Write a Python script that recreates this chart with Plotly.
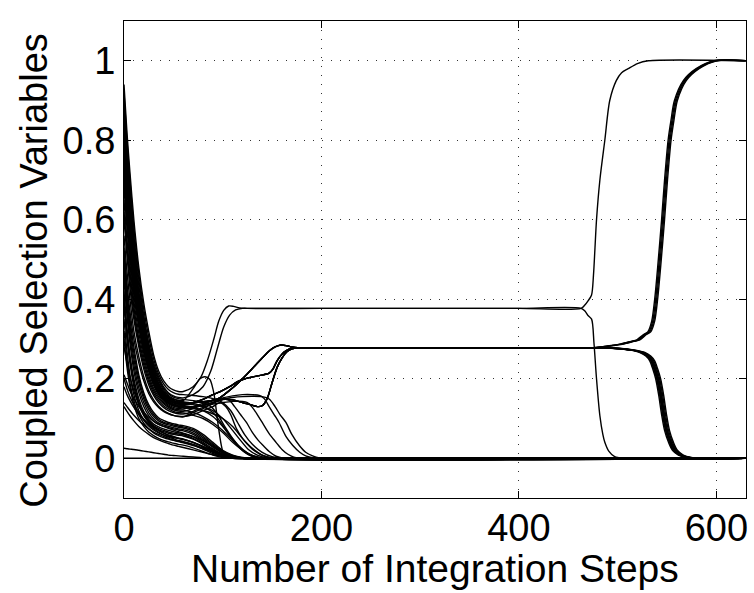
import plotly.graph_objects as go

# ---------------- data ----------------
x_ticks = [0, 200, 400, 600]
y_ticks = [0, 0.2, 0.4, 0.6, 0.8, 1.0]
y_tick_text = ["0", "0.2", "0.4", "0.6", "0.8", "1"]

early_x = [0, 3, 6, 10, 15, 20, 25, 30, 35, 40, 45, 50, 55, 60]

# upper bundle (slow decay to ~0.1-0.17)
u1 = [0.94, 0.82, 0.72, 0.60, 0.48, 0.39, 0.32, 0.26, 0.22, 0.195, 0.18, 0.172, 0.168, 0.168]
u2 = [0.90, 0.78, 0.68, 0.56, 0.45, 0.36, 0.29, 0.24, 0.205, 0.18, 0.165, 0.157, 0.153, 0.152]
u3 = [0.86, 0.74, 0.64, 0.53, 0.42, 0.34, 0.275, 0.228, 0.195, 0.172, 0.158, 0.15, 0.146, 0.145]
u4 = [0.82, 0.70, 0.60, 0.50, 0.40, 0.32, 0.26, 0.215, 0.185, 0.165, 0.152, 0.145, 0.141, 0.14]
u5 = [0.78, 0.66, 0.57, 0.47, 0.37, 0.30, 0.245, 0.205, 0.175, 0.157, 0.146, 0.14, 0.137, 0.136]
u6 = [0.74, 0.63, 0.54, 0.44, 0.35, 0.28, 0.23, 0.193, 0.167, 0.15, 0.14, 0.134, 0.131, 0.13]
u7 = [0.70, 0.60, 0.51, 0.41, 0.33, 0.265, 0.218, 0.183, 0.16, 0.144, 0.134, 0.128, 0.125, 0.124]
u8 = [0.65, 0.55, 0.47, 0.38, 0.30, 0.245, 0.20, 0.17, 0.15, 0.137, 0.128, 0.122, 0.119, 0.118]
u9 = [0.60, 0.51, 0.43, 0.35, 0.28, 0.225, 0.185, 0.158, 0.14, 0.128, 0.12, 0.115, 0.112, 0.111]
u10 = [0.56, 0.47, 0.40, 0.32, 0.255, 0.205, 0.17, 0.147, 0.131, 0.12, 0.113, 0.108, 0.105, 0.104]
u11 = [0.53, 0.44, 0.37, 0.30, 0.24, 0.195, 0.163, 0.142, 0.128, 0.118, 0.112, 0.108, 0.106, 0.105]
u12 = [0.92, 0.80, 0.70, 0.58, 0.465, 0.375, 0.305, 0.25, 0.212, 0.188, 0.173, 0.165, 0.161, 0.16]
u13 = [0.88, 0.76, 0.66, 0.545, 0.435, 0.35, 0.283, 0.234, 0.20, 0.176, 0.162, 0.154, 0.15, 0.148]
u14 = [0.84, 0.72, 0.62, 0.515, 0.41, 0.33, 0.268, 0.222, 0.19, 0.168, 0.155, 0.148, 0.144, 0.142]
u15 = [0.80, 0.68, 0.585, 0.485, 0.385, 0.31, 0.253, 0.21, 0.18, 0.161, 0.149, 0.142, 0.138, 0.137]
u16 = [0.76, 0.645, 0.555, 0.455, 0.36, 0.29, 0.238, 0.199, 0.171, 0.153, 0.143, 0.137, 0.134, 0.133]
u17 = [0.72, 0.615, 0.525, 0.425, 0.34, 0.272, 0.224, 0.188, 0.163, 0.147, 0.137, 0.131, 0.128, 0.127]
u18 = [0.68, 0.58, 0.49, 0.395, 0.315, 0.255, 0.209, 0.176, 0.155, 0.14, 0.131, 0.125, 0.122, 0.121]
u19 = [0.62, 0.53, 0.45, 0.365, 0.29, 0.235, 0.193, 0.164, 0.145, 0.132, 0.124, 0.118, 0.115, 0.114]

# lower bundle (fast decay towards 0)
l1 = [0.52, 0.42, 0.35, 0.28, 0.21, 0.165, 0.135, 0.115, 0.102, 0.095, 0.09, 0.087, 0.084, 0.082]
l2 = [0.48, 0.39, 0.32, 0.25, 0.19, 0.15, 0.123, 0.105, 0.094, 0.088, 0.084, 0.081, 0.078, 0.076]
l3 = [0.45, 0.36, 0.29, 0.22, 0.165, 0.13, 0.107, 0.093, 0.085, 0.08, 0.077, 0.074, 0.071, 0.069]
l4 = [0.42, 0.33, 0.26, 0.20, 0.15, 0.118, 0.098, 0.086, 0.079, 0.074, 0.07, 0.067, 0.064, 0.062]
l5 = [0.38, 0.30, 0.24, 0.18, 0.135, 0.107, 0.09, 0.079, 0.072, 0.067, 0.063, 0.06, 0.058, 0.056]
l6 = [0.35, 0.27, 0.21, 0.16, 0.12, 0.096, 0.081, 0.071, 0.064, 0.059, 0.055, 0.052, 0.05, 0.048]
l7 = [0.32, 0.25, 0.19, 0.145, 0.11, 0.088, 0.074, 0.064, 0.057, 0.052, 0.048, 0.045, 0.043, 0.041]
l8 = [0.30, 0.23, 0.18, 0.135, 0.10, 0.08, 0.066, 0.057, 0.05, 0.045, 0.041, 0.038, 0.035, 0.033]
l9 = [0.21, 0.19, 0.17, 0.15, 0.13, 0.115, 0.103, 0.093, 0.086, 0.08, 0.075, 0.071, 0.067, 0.063]
l10 = [0.18, 0.16, 0.145, 0.128, 0.11, 0.097, 0.086, 0.077, 0.07, 0.064, 0.059, 0.055, 0.051, 0.048]
l11 = [0.14, 0.13, 0.12, 0.108, 0.095, 0.084, 0.074, 0.066, 0.06, 0.055, 0.05, 0.046, 0.042, 0.039]
l12 = [0.025, 0.024, 0.023, 0.022, 0.02, 0.018, 0.016, 0.014, 0.012, 0.01, 0.008, 0.007, 0.006, 0.005]
l13 = [0, 0, 0, 0, 0, 0, 0, 0, 0, 0, 0, 0, 0, 0]
l14 = [0.50, 0.405, 0.335, 0.265, 0.20, 0.157, 0.129, 0.11, 0.098, 0.091, 0.087, 0.084, 0.081, 0.079]
l15 = [0.46, 0.375, 0.305, 0.235, 0.177, 0.14, 0.115, 0.099, 0.089, 0.084, 0.08, 0.077, 0.074, 0.072]
l16 = [0.40, 0.315, 0.25, 0.19, 0.142, 0.112, 0.094, 0.082, 0.075, 0.07, 0.066, 0.063, 0.061, 0.059]
l17 = [0.28, 0.24, 0.205, 0.17, 0.135, 0.11, 0.093, 0.08, 0.07, 0.063, 0.057, 0.053, 0.05, 0.047]
l18 = [0.20, 0.175, 0.155, 0.135, 0.115, 0.098, 0.085, 0.074, 0.066, 0.059, 0.053, 0.049, 0.045, 0.042]
l19 = [0.13, 0.118, 0.107, 0.094, 0.08, 0.069, 0.06, 0.052, 0.046, 0.041, 0.037, 0.033, 0.03, 0.027]

# continuations after step 60 (x, y)
u1_tail_x = [70, 78, 85, 91, 96, 101, 106, 111, 117, 125, 200, 300, 400, 463]
u1_tail_y = [0.18, 0.205, 0.25, 0.30, 0.345, 0.372, 0.383, 0.382, 0.378, 0.377, 0.377, 0.377, 0.377, 0.377]
u2_tail_x = [70, 80, 88, 95, 101, 107, 113, 120, 128, 200, 300, 400, 463]
u2_tail_y = [0.16, 0.18, 0.22, 0.28, 0.33, 0.36, 0.373, 0.377, 0.377, 0.377, 0.377, 0.377, 0.377]
u3_tail_x = [70, 77, 82, 87, 90, 92, 95, 98.6, 101, 104, 110, 630]
u3_tail_y = [0.175, 0.2, 0.205, 0.198, 0.175, 0.149, 0.09, 0.032, 0.01, 0.002, 0, 0]
u4_tail_x = [70, 80, 90, 97, 105, 113.7, 122, 130, 140, 147, 153, 159, 165, 170, 176, 185, 280, 380, 476]
u4_tail_y = [0.14, 0.142, 0.146, 0.152, 0.167, 0.185, 0.205, 0.226, 0.252, 0.27, 0.28, 0.285, 0.283, 0.28, 0.278, 0.278, 0.278, 0.278, 0.278]
u5_tail_x = [70, 80, 90, 97, 107, 117, 127, 137, 147, 151, 155, 160, 164, 169, 175, 185, 280, 380, 476]
u5_tail_y = [0.14, 0.148, 0.16, 0.167, 0.18, 0.195, 0.203, 0.208, 0.214, 0.225, 0.245, 0.262, 0.27, 0.276, 0.278, 0.278, 0.278, 0.278, 0.278]
u6_tail_x = [70, 80, 90, 100, 110, 120, 128, 135, 140, 145, 150, 155, 160, 165, 170, 176, 185, 280, 380, 476]
u6_tail_y = [0.13, 0.133, 0.14, 0.148, 0.147, 0.14, 0.135, 0.13, 0.132, 0.15, 0.19, 0.228, 0.252, 0.268, 0.275, 0.278, 0.278, 0.278, 0.278, 0.278]
u7_tail_x = [70, 80, 90, 100, 110, 120, 130, 140, 147, 153, 158, 164, 170, 177.6, 184, 191, 198, 205, 630]
u7_tail_y = [0.13, 0.138, 0.145, 0.15, 0.153, 0.155, 0.156, 0.155, 0.149, 0.13, 0.11, 0.09, 0.06, 0.032, 0.015, 0.006, 0.001, 0, 0]
u8_tail_x = [70, 80, 90, 100, 110, 120, 130, 137, 142, 147, 152, 157, 164, 171, 178, 184, 192, 200, 630]
u8_tail_y = [0.125, 0.135, 0.145, 0.152, 0.157, 0.16, 0.16, 0.158, 0.15, 0.13, 0.11, 0.09, 0.055, 0.032, 0.015, 0.006, 0.001, 0, 0]
u9_tail_x = [70, 80, 90, 100, 110, 120, 125, 130, 135, 140, 147, 154, 160, 166, 172, 180, 630]
u9_tail_y = [0.118, 0.128, 0.136, 0.14, 0.143, 0.143, 0.14, 0.128, 0.11, 0.09, 0.062, 0.04, 0.022, 0.01, 0.003, 0, 0]
u10_tail_x = [70, 80, 90, 97, 103, 107, 112, 118, 124, 130, 136, 141, 148, 154, 160, 166, 630]
u10_tail_y = [0.115, 0.125, 0.138, 0.145, 0.148, 0.145, 0.13, 0.11, 0.09, 0.065, 0.045, 0.032, 0.015, 0.005, 0.001, 0, 0]
u11_tail_x = [70, 80, 90, 97, 103, 108, 114, 120, 125, 130, 138, 147, 155, 630]
u11_tail_y = [0.11, 0.12, 0.13, 0.14, 0.13, 0.11, 0.074, 0.05, 0.035, 0.023, 0.01, 0.002, 0, 0]
u12_tail_x = [70, 80, 90, 100, 108, 115, 122, 130, 140, 150, 160, 630]
u12_tail_y = [0.158, 0.155, 0.15, 0.14, 0.12, 0.09, 0.06, 0.035, 0.015, 0.004, 0, 0]
u13_tail_x = [70, 80, 88, 95, 102, 110, 118, 126, 135, 145, 630]
u13_tail_y = [0.145, 0.14, 0.13, 0.11, 0.08, 0.05, 0.025, 0.01, 0.002, 0, 0]
u14_tail_x = [70, 80, 90, 98, 106, 114, 122, 130, 140, 630]
u14_tail_y = [0.138, 0.13, 0.115, 0.09, 0.06, 0.035, 0.015, 0.004, 0, 0]
u15_tail_x = [70, 80, 90, 100, 110, 118, 126, 135, 145, 155, 630]
u15_tail_y = [0.135, 0.13, 0.12, 0.10, 0.07, 0.045, 0.022, 0.008, 0.001, 0, 0]
u16_tail_x = [70, 80, 90, 100, 108, 116, 124, 132, 140, 630]
u16_tail_y = [0.128, 0.12, 0.105, 0.08, 0.055, 0.032, 0.015, 0.005, 0, 0]
u17_tail_x = [70, 80, 90, 100, 110, 120, 130, 140, 150, 160, 630]
u17_tail_y = [0.125, 0.12, 0.112, 0.10, 0.08, 0.05, 0.025, 0.008, 0.001, 0, 0]
u18_tail_x = [70, 80, 90, 100, 110, 120, 130, 140, 150, 630]
u18_tail_y = [0.115, 0.105, 0.09, 0.07, 0.045, 0.022, 0.007, 0.001, 0, 0]
u19_tail_x = [70, 80, 90, 100, 110, 120, 130, 140, 630]
u19_tail_y = [0.108, 0.10, 0.085, 0.065, 0.04, 0.02, 0.006, 0, 0]

l1_tail_x = [70, 80, 90, 100, 110, 120, 130, 630]
l1_tail_y = [0.075, 0.06, 0.04, 0.02, 0.008, 0.002, 0, 0]
l2_tail_x = [70, 80, 90, 100, 110, 120, 130, 630]
l2_tail_y = [0.068, 0.052, 0.033, 0.016, 0.006, 0.001, 0, 0]
l3_tail_x = [70, 80, 90, 100, 110, 120, 630]
l3_tail_y = [0.06, 0.045, 0.028, 0.013, 0.004, 0, 0]
l4_tail_x = [70, 80, 90, 100, 110, 120, 630]
l4_tail_y = [0.054, 0.04, 0.024, 0.01, 0.003, 0, 0]
l5_tail_x = [70, 80, 90, 100, 110, 120, 630]
l5_tail_y = [0.048, 0.035, 0.02, 0.008, 0.002, 0, 0]
l6_tail_x = [70, 80, 90, 100, 110, 118, 630]
l6_tail_y = [0.04, 0.028, 0.015, 0.006, 0.001, 0, 0]
l7_tail_x = [70, 80, 90, 100, 110, 630]
l7_tail_y = [0.034, 0.023, 0.012, 0.004, 0, 0]
l8_tail_x = [70, 80, 90, 100, 110, 630]
l8_tail_y = [0.026, 0.017, 0.008, 0.002, 0, 0]
l9_tail_x = [70, 80, 90, 100, 110, 120, 130, 630]
l9_tail_y = [0.055, 0.044, 0.03, 0.016, 0.006, 0.001, 0, 0]
l10_tail_x = [70, 80, 90, 100, 110, 120, 630]
l10_tail_y = [0.04, 0.03, 0.02, 0.01, 0.004, 0, 0]
l11_tail_x = [70, 80, 90, 100, 110, 120, 630]
l11_tail_y = [0.032, 0.024, 0.016, 0.008, 0.003, 0, 0]
l12_tail_x = [70, 80, 90, 630]
l12_tail_y = [0.003, 0.001, 0, 0]
l13_tail_x = [630]
l13_tail_y = [0]
l14_tail_x = [70, 80, 90, 100, 110, 120, 130, 630]
l14_tail_y = [0.072, 0.056, 0.036, 0.018, 0.007, 0.001, 0, 0]
l15_tail_x = [70, 80, 90, 100, 110, 120, 630]
l15_tail_y = [0.064, 0.048, 0.03, 0.014, 0.005, 0, 0]
l16_tail_x = [70, 80, 90, 100, 110, 120, 630]
l16_tail_y = [0.05, 0.037, 0.022, 0.009, 0.002, 0, 0]
l17_tail_x = [70, 80, 90, 100, 110, 120, 630]
l17_tail_y = [0.04, 0.03, 0.018, 0.008, 0.002, 0, 0]
l18_tail_x = [70, 80, 90, 100, 110, 120, 630]
l18_tail_y = [0.035, 0.026, 0.016, 0.007, 0.002, 0, 0]
l19_tail_x = [70, 80, 90, 100, 110, 120, 630]
l19_tail_y = [0.021, 0.015, 0.009, 0.004, 0.001, 0, 0]

# late transitions
p38_up_x = [467, 470, 473.5, 475.5, 477, 478.6, 482, 487, 492, 498.6, 504, 510.6, 520, 531, 630]
p38_up_y = [0.386, 0.396, 0.41, 0.46, 0.527, 0.6, 0.7, 0.8, 0.9, 0.95, 0.97, 0.98, 0.993, 1.0, 1.0]
p38_down_x = [467, 470, 473.6, 476, 478.6, 482, 485, 487, 491, 497, 505, 630]
p38_down_y = [0.37, 0.359, 0.35, 0.29, 0.2, 0.107, 0.06, 0.04, 0.018, 0.004, 0, 0]

p28_up_x = [490, 504, 515, 521, 527, 532, 536, 539, 542, 546, 549, 552.6, 555.5, 559, 568, 581, 599, 630]
p28_up_y = [0.282, 0.287, 0.294, 0.298, 0.31, 0.318, 0.345, 0.4, 0.48, 0.6, 0.7, 0.8, 0.85, 0.9, 0.95, 0.98, 1.0, 1.0]
p28_down_x = [500, 515, 525, 531, 535, 538, 541, 544, 547, 550, 554, 558, 564, 572, 580, 630]
p28_down_y = [0.276, 0.272, 0.266, 0.257, 0.245, 0.225, 0.2, 0.16, 0.11, 0.07, 0.04, 0.02, 0.008, 0.002, 0, 0]

# spread of transition times within each bundle (steps)
p28_up_shift = [-1.5, -0.5, 0.5, 1.5]
p28_down_shift = [-2.5, -1.5, -1.0, -0.5, 0.0, 0.5, 1.5, 2.5]

# ---------------- build figure ----------------
fig = go.Figure()
LINE = dict(color="black", width=1.4, shape="spline", smoothing=0.8)


def add(xs, ys):
    fig.add_trace(go.Scatter(x=xs, y=ys, mode="lines", line=LINE,
                             showlegend=False, hoverinfo="skip"))


simple = [
    (u3, u3_tail_x, u3_tail_y), (u7, u7_tail_x, u7_tail_y), (u8, u8_tail_x, u8_tail_y),
    (u9, u9_tail_x, u9_tail_y), (u10, u10_tail_x, u10_tail_y), (u11, u11_tail_x, u11_tail_y),
    (u12, u12_tail_x, u12_tail_y), (u13, u13_tail_x, u13_tail_y), (u14, u14_tail_x, u14_tail_y),
    (u15, u15_tail_x, u15_tail_y), (u16, u16_tail_x, u16_tail_y), (u17, u17_tail_x, u17_tail_y),
    (u18, u18_tail_x, u18_tail_y), (u19, u19_tail_x, u19_tail_y),
    (l1, l1_tail_x, l1_tail_y), (l2, l2_tail_x, l2_tail_y), (l3, l3_tail_x, l3_tail_y),
    (l4, l4_tail_x, l4_tail_y), (l5, l5_tail_x, l5_tail_y), (l6, l6_tail_x, l6_tail_y),
    (l7, l7_tail_x, l7_tail_y), (l8, l8_tail_x, l8_tail_y), (l9, l9_tail_x, l9_tail_y),
    (l10, l10_tail_x, l10_tail_y), (l11, l11_tail_x, l11_tail_y), (l12, l12_tail_x, l12_tail_y),
    (l13, l13_tail_x, l13_tail_y), (l14, l14_tail_x, l14_tail_y), (l15, l15_tail_x, l15_tail_y),
    (l16, l16_tail_x, l16_tail_y), (l17, l17_tail_x, l17_tail_y), (l18, l18_tail_x, l18_tail_y),
    (l19, l19_tail_x, l19_tail_y),
]
for e, tx, ty in simple:
    add(early_x + tx, e + ty)

# 0.38 plateau pair
add(early_x + u1_tail_x + p38_up_x, u1 + u1_tail_y + p38_up_y)
add(early_x + u2_tail_x + p38_down_x, u2 + u2_tail_y + p38_down_y)

# 0.28 plateau bundle: three early paths, twelve variables
paths28 = [(u4, u4_tail_x, u4_tail_y), (u5, u5_tail_x, u5_tail_y), (u6, u6_tail_x, u6_tail_y)]
assign_up = [0, 1, 2, 2]
assign_down = [0, 0, 0, 1, 1, 1, 2, 2]
for k, s in zip(assign_up, p28_up_shift):
    e, tx, ty = paths28[k]
    add(early_x + tx + [v + s for v in p28_up_x], e + ty + p28_up_y)
for k, s in zip(assign_down, p28_down_shift):
    e, tx, ty = paths28[k]
    add(early_x + tx + [v + s for v in p28_down_x], e + ty + p28_down_y)

FONT = "Liberation Sans, Arial, Helvetica, sans-serif"
axis_common = dict(
    showline=True, linecolor="black", linewidth=1, mirror="allticks",
    ticks="inside", ticklen=7, tickcolor="black", tickwidth=1,
    showgrid=True, gridcolor="#333333", gridwidth=1, griddash="1px,8px",
    zeroline=False, tickfont=dict(family=FONT, size=38, color="black"),
)
fig.update_layout(
    width=754, height=593,
    margin=dict(l=124, r=6, t=21, b=95),
    paper_bgcolor="white", plot_bgcolor="white",
    xaxis=dict(range=[0, 630], tickvals=x_ticks, ticklabelstandoff=-4, **axis_common),
    yaxis=dict(range=[-0.1, 1.1], tickvals=y_ticks, ticktext=y_tick_text, **axis_common),
    annotations=[
        dict(text="Number of Integration Steps", xref="paper", yref="paper",
             x=0.5, y=-0.148, xanchor="center", yanchor="middle", showarrow=False,
             font=dict(family=FONT, size=39, color="black")),
        dict(text="Coupled Selection Variables", xref="paper", yref="paper",
             x=-0.145, y=0.478, xanchor="center", yanchor="middle", showarrow=False,
             textangle=-90, font=dict(family=FONT, size=38, color="black")),
    ],
)
fig.write_html("out.html")
